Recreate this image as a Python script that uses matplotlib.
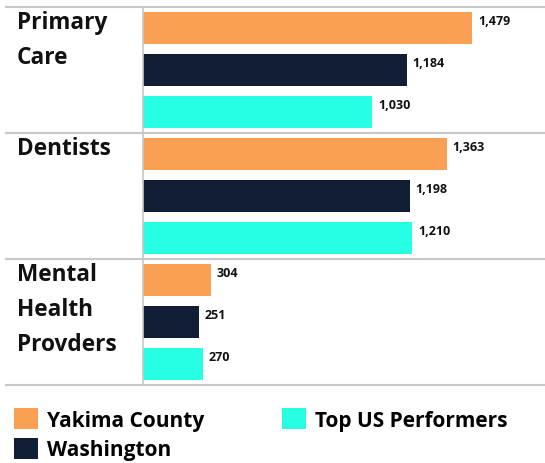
import matplotlib
matplotlib.use("Agg")
from matplotlib import pyplot as plt
from matplotlib.lines import Line2D

categorias = ["Primary\nCare", "Dentists", "Mental\nHealth\nProvders"]
series = ["Yakima County", "Washington", "Top US Performers"]
yakima = [1479, 1363, 304]
washington = [1184, 1198, 251]
top_us = [1030, 1210, 270]
colores = ["#FAA055", "#121D36", "#26FFE4"]

plt.rcParams['font.family'] = ['Open Sans', 'DejaVu Sans']

fig = plt.figure(figsize=(5.45, 4.64), dpi=100)
ax = fig.add_axes([143 / 545, 1 - 386 / 464, 1 - 143 / 545, 378 / 464])

valores = [yakima, washington, top_us]
for j, (nombre, vals) in enumerate(zip(series, valores)):
    posiciones = [i * 3 + j + 0.5 for i in range(len(categorias))]
    ax.barh(posiciones, vals, height=0.78, color=colores[j], label=nombre)
    for p, v in zip(posiciones, vals):
        ax.annotate(f"{v:,}", (v, p), xytext=(4, 5.5), textcoords="offset points",
                    ha="left", va="center", fontsize=9, fontweight="bold",
                    color="#111111")

ax.set_xlim(0, 1805)
ax.set_ylim(9, 0)
ax.set_xticks([])
ax.set_yticks([])
for s in ["top", "right", "bottom"]:
    ax.spines[s].set_visible(False)
ax.spines["left"].set_color("#c8c8c8")
ax.spines["left"].set_linewidth(1.2)

# lineas separadoras que se extienden hacia las etiquetas
x0 = -(143 - 6) / (545 - 143)
for y in [0, 3, 6, 9]:
    ax.add_line(Line2D([x0, 1], [y, y], transform=ax.get_yaxis_transform(),
                       color="#c8c8c8", lw=1.5, clip_on=False))

for i, cat in enumerate(categorias):
    ax.text(17 / 545, 1 - (8 + i * 126 + 3) / 464, cat, transform=fig.transFigure,
            ha="left", va="top", fontsize=16.3, fontweight="bold", color="#111111",
            linespacing=1.62)

leg = ax.legend(loc="upper left", bbox_to_anchor=(10 / 545, 1 - 405 / 464),
                bbox_transform=fig.transFigure, ncol=2, frameon=False,
                prop={"size": 15, "weight": "bold"}, handlelength=1.15,
                handleheight=1.15, handletextpad=0.45, columnspacing=3.7,
                labelspacing=0.35, borderaxespad=0, borderpad=0.2)

plt.savefig("out.png", dpi=100)
